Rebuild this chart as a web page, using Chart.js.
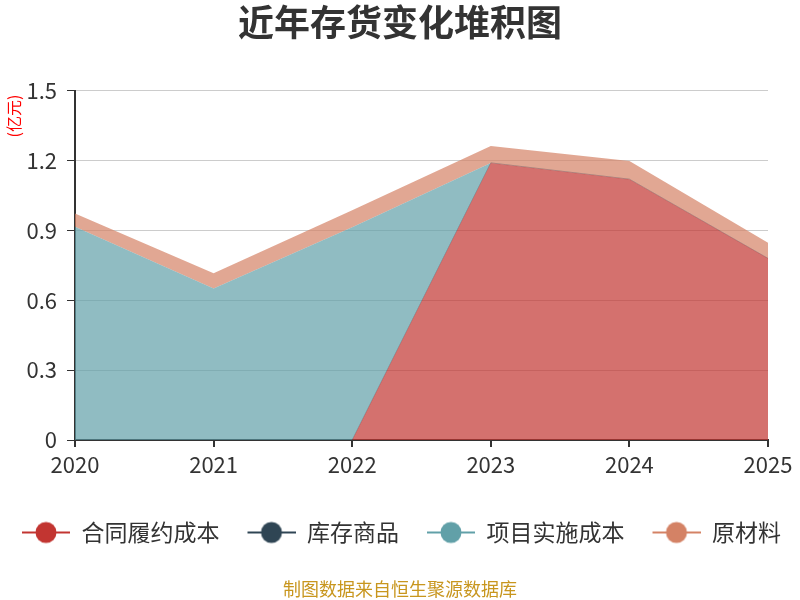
<!DOCTYPE html>
<html><head><meta charset="utf-8">
<script src="https://cdn.jsdelivr.net/npm/chart.js@4.4.1/dist/chart.umd.min.js"></script>
<style>html,body{margin:0;padding:0;background:#fff}#wrap{width:800px;height:600px}</style>
</head><body><div id="wrap"><canvas id="c" width="800" height="600"></canvas></div>
<script>
const years = ['2020','2021','2022','2023','2024','2025'];
const contractCost = [0, 0, 0, 1.19, 1.12, 0.78];
const inventoryGoods = [0, 0, 0, 0, 0, 0];
const projectCost = [0.916, 0.651, 0.914, 0, 0, 0];
const rawMaterials = [0.057, 0.065, 0.073, 0.073, 0.078, 0.067];
const seriesNames = ['合同履约成本', '库存商品', '项目实施成本', '原材料'];
const seriesColors = ['#c23531', '#2f4554', '#61a0a8', '#d48265'];
const seriesFills = ['rgba(194,53,49,0.7)', 'rgba(47,69,84,0.7)', 'rgba(97,160,168,0.7)', 'rgba(212,130,101,0.7)'];
const yTickValues = [0, 0.3, 0.6, 0.9, 1.2, 1.5];
const titleText = '近年存货变化堆积图';
const unitText = '(亿元)';
const sourceText = '制图数据来自恒生聚源数据库';

const FONT = '"Noto Sans CJK SC", "Noto Sans", sans-serif';
const ICON_LEAD = 16;

function legendIcon(color) {
  const c = document.createElement('canvas');
  c.width = 48 + ICON_LEAD; c.height = 24;
  const g = c.getContext('2d');
  g.strokeStyle = color; g.lineWidth = 2;
  g.beginPath(); g.moveTo(ICON_LEAD, 12); g.lineTo(ICON_LEAD + 48, 12); g.stroke();
  g.fillStyle = color;
  g.beginPath(); g.arc(ICON_LEAD + 24, 12, 10.5, 0, Math.PI * 2); g.fill();
  return c;
}
const icons = seriesColors.map(legendIcon);

const seriesData = [contractCost, inventoryGoods, projectCost, rawMaterials];
const datasets = seriesNames.map((name, i) => ({
  label: name,
  data: seriesData[i],
  backgroundColor: seriesFills[i],
  borderColor: i === 1 ? 'rgba(47,69,84,0.35)' : 'rgba(0,0,0,0)',
  borderWidth: i === 1 ? 1 : 0,
  fill: i === 0 ? 'origin' : '-1',
  pointRadius: 0,
  pointHoverRadius: 0,
  tension: 0
}));

const unitPlugin = {
  id: 'unitLabel',
  afterLayout(chart) {
    if (chart.legend) { chart.legend.left -= 6.5; chart.legend.right -= 6.5; }
  },
  afterDraw(chart) {
    const ctx = chart.ctx;
    ctx.save();
    ctx.translate(14, 116);
    ctx.rotate(-Math.PI / 2);
    ctx.fillStyle = '#ff0000';
    ctx.font = '16px ' + FONT;
    ctx.textAlign = 'center';
    ctx.textBaseline = 'middle';
    ctx.fillText(unitText, 0, 0);
    ctx.restore();
  }
};

new Chart(document.getElementById('c'), {
  type: 'line',
  data: { labels: years, datasets },
  plugins: [unitPlugin],
  options: {
    responsive: false,
    animation: false,
    layout: { padding: { left: 0, right: 0, top: 0, bottom: 0 } },
    plugins: {
      tooltip: { enabled: false },
      title: {
        display: true, text: titleText, color: '#333',
        font: { family: FONT, size: 36, weight: 'bold', lineHeight: 1.2 },
        padding: { top: 1, bottom: 46.5 }
      },
      subtitle: {
        display: true, position: 'bottom', text: sourceText, color: '#c8961e',
        font: { family: FONT, size: 18, lineHeight: 1.2 },
        padding: { top: 24.4, bottom: 0 }
      },
      legend: {
        position: 'bottom',
        labels: {
          usePointStyle: true,
          pointStyleWidth: 48 + ICON_LEAD,
          color: '#333',
          padding: 12,
          font: { family: FONT, size: 23 },
          generateLabels(chart) {
            return chart.data.datasets.map((ds, i) => ({
              text: ds.label,
              fillStyle: seriesColors[i],
              strokeStyle: seriesColors[i],
              lineWidth: 0,
              pointStyle: icons[i],
              fontColor: '#333',
              hidden: false,
              datasetIndex: i
            }));
          }
        }
      }
    },
    scales: {
      x: {
        type: 'category',
        offset: false,
        afterFit(scale) { scale.height = 69; scale.paddingRight = 32; },
        grid: { display: true, drawOnChartArea: false, drawTicks: true, tickLength: 7, tickColor: '#333', lineWidth: 2 },
        border: { display: true, color: '#333', width: 2 },
        ticks: { color: '#333', padding: 4, font: { family: FONT, size: 22 }, maxRotation: 0, autoSkip: false }
      },
      y: {
        stacked: true,
        min: 0, max: 1.5,
        afterFit(scale) { scale.width = 75; },
        afterBuildTicks(scale) { scale.ticks = yTickValues.map(v => ({ value: v })); },
        grid: { color: '#cccccc', lineWidth: 1, tickColor: '#333', tickLength: 8 },
        border: { display: true, color: '#333', width: 2 },
        ticks: {
          color: '#333', padding: 10, font: { family: FONT, size: 22 },
          callback: v => String(Number(Number(v).toFixed(1)))
        }
      }
    }
  }
});
</script>
</body></html>
